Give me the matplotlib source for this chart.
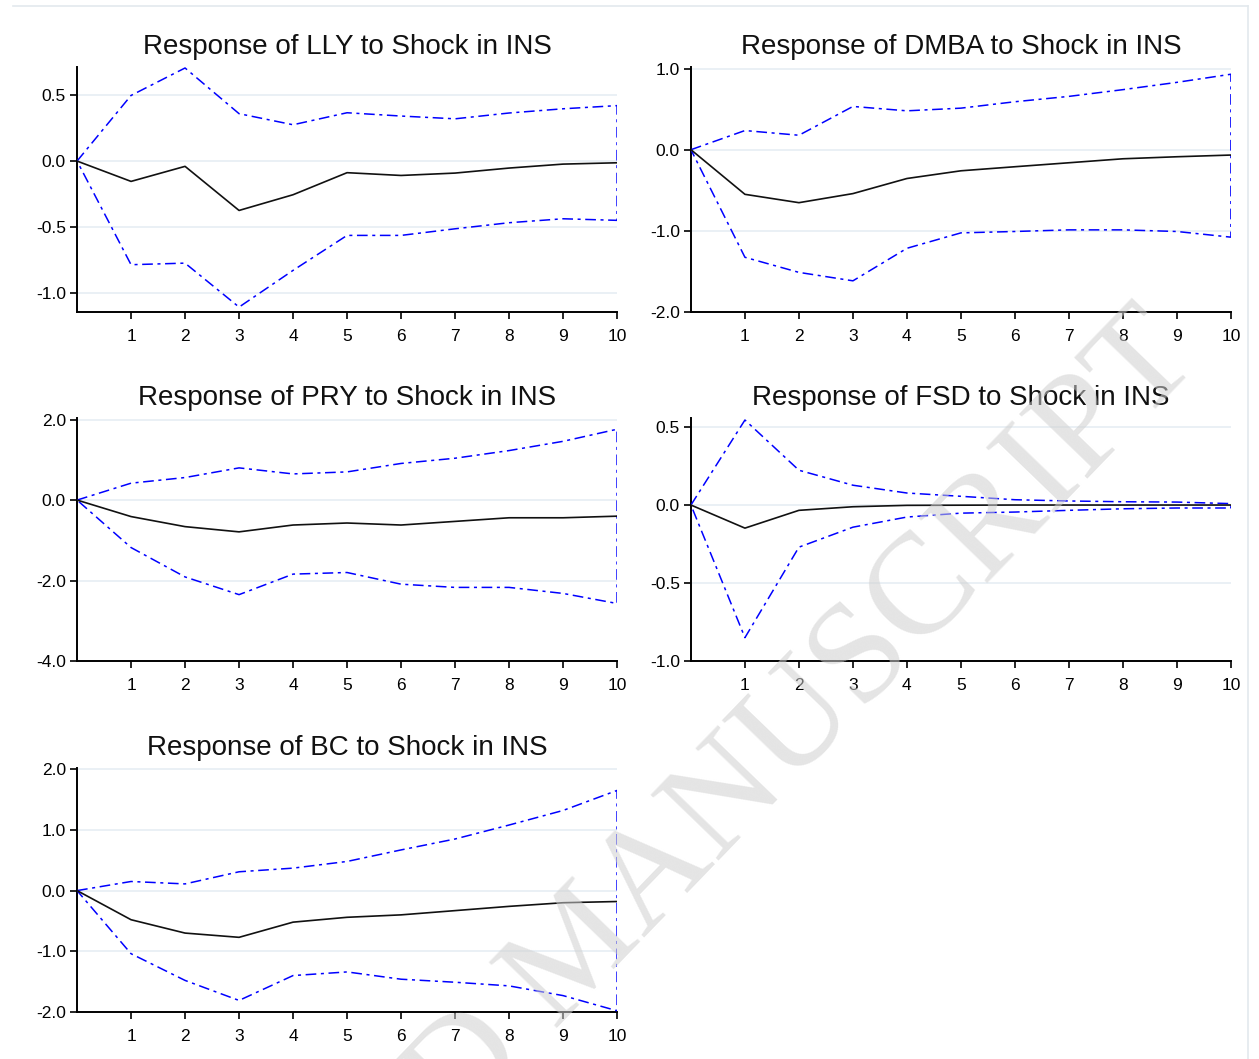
import matplotlib
matplotlib.use("Agg")
import matplotlib.pyplot as plt
from matplotlib.lines import Line2D

plt.rcParams["font.family"] = ["Liberation Sans", "DejaVu Sans"]

# impulse horizon
periods = list(range(0, 11))

# responses to a shock in INS (point estimate, upper and lower bands)
lly_resp = [0, -0.154, -0.040, -0.374, -0.255, -0.088, -0.109, -0.091, -0.053, -0.023, -0.013]
lly_upper = [0, 0.497, 0.705, 0.359, 0.275, 0.366, 0.341, 0.320, 0.364, 0.396, 0.420]
lly_lower = [0, -0.785, -0.773, -1.106, -0.828, -0.563, -0.563, -0.513, -0.467, -0.437, -0.449]

dmba_resp = [0, -0.550, -0.653, -0.541, -0.355, -0.260, -0.210, -0.161, -0.112, -0.087, -0.066]
dmba_upper = [0, 0.236, 0.178, 0.533, 0.479, 0.512, 0.591, 0.657, 0.740, 0.830, 0.930]
dmba_lower = [0, -1.326, -1.512, -1.616, -1.215, -1.025, -1.008, -0.988, -0.988, -1.008, -1.078]

pry_resp = [0, -0.41, -0.66, -0.79, -0.62, -0.57, -0.62, -0.53, -0.44, -0.44, -0.40]
pry_upper = [0, 0.42, 0.56, 0.80, 0.65, 0.70, 0.91, 1.04, 1.23, 1.46, 1.76]
pry_lower = [0, -1.18, -1.91, -2.35, -1.84, -1.80, -2.09, -2.17, -2.17, -2.32, -2.57]

fsd_resp = [0, -0.148, -0.034, -0.011, -0.002, -0.001, 0.000, 0.000, 0.000, 0.000, 0.000]
fsd_upper = [0, 0.545, 0.223, 0.127, 0.077, 0.056, 0.034, 0.026, 0.021, 0.019, 0.009]
fsd_lower = [0, -0.850, -0.270, -0.142, -0.077, -0.052, -0.045, -0.034, -0.024, -0.019, -0.019]

bc_resp = [0, -0.48, -0.70, -0.77, -0.52, -0.44, -0.40, -0.33, -0.26, -0.20, -0.18]
bc_upper = [0, 0.15, 0.11, 0.31, 0.37, 0.48, 0.67, 0.85, 1.08, 1.32, 1.65]
bc_lower = [0, -1.04, -1.48, -1.81, -1.40, -1.34, -1.46, -1.51, -1.57, -1.73, -1.98]

panels = [
    ("LLY", lly_resp, lly_upper, lly_lower, (-1.143, 0.713), [-1.0, -0.5, 0.0, 0.5]),
    ("DMBA", dmba_resp, dmba_upper, dmba_lower, (-2.0, 1.02), [-2.0, -1.0, 0.0, 1.0]),
    ("PRY", pry_resp, pry_upper, pry_lower, (-4.0, 2.04), [-4.0, -2.0, 0.0, 2.0]),
    ("FSD", fsd_resp, fsd_upper, fsd_lower, (-1.0, 0.558), [-1.0, -0.5, 0.0, 0.5]),
    ("BC", bc_resp, bc_upper, bc_lower, (-2.0, 2.02), [-2.0, -1.0, 0.0, 1.0, 2.0]),
]

# axes boxes in figure fractions: left, bottom, width, height
boxes = [
    (0.0612, 0.7054, 0.4289, 0.2314),
    (0.5488, 0.7054, 0.4289, 0.2314),
    (0.0612, 0.3758, 0.4289, 0.2295),
    (0.5488, 0.3758, 0.4289, 0.2295),
    (0.0612, 0.0444, 0.4289, 0.2304),
]

fig = plt.figure(figsize=(12.59, 10.59), dpi=100)

for (name, resp, upper, lower, ylim, yticks), box in zip(panels, boxes):
    ax = fig.add_axes(box)
    # band drawn as one closed outline: upper out to the horizon, lower back
    band_x = periods + periods[::-1]
    band_y = upper + lower[::-1]
    ax.plot(band_x, band_y, color="#0000ff", lw=1.1,
            linestyle=(0, (7, 3, 2, 3)), zorder=3)
    ax.plot(periods, resp, color="#111111", lw=1.2, zorder=4)

    ax.set_xlim(0, 10)
    ax.set_ylim(*ylim)
    ax.set_xticks(periods[1:])
    ax.set_yticks(yticks)
    ax.set_yticklabels([f"{t:.1f}" for t in yticks])
    for t in yticks:
        ax.axhline(t, color="#e6eef3", lw=1.2, zorder=1)

    for side in ("top", "right"):
        ax.spines[side].set_visible(False)
    for side in ("left", "bottom"):
        ax.spines[side].set_linewidth(1.4)
        ax.spines[side].set_color("black")
    ax.tick_params(direction="out", length=5, width=1.2, labelsize=12.5,
                   colors="black")
    ax.tick_params(axis="x", pad=7)
    ax.tick_params(axis="y", pad=3)
    ax.set_title(f"Response of {name} to Shock in INS", fontsize=20,
                 color="#111111", pad=9)

# thin frame along top and right edge
fig.add_artist(Line2D([0.010, 0.991], [0.9945, 0.9945], color="#e3e9ed", lw=1.2))
fig.add_artist(Line2D([0.991, 0.991], [0.0, 0.9945], color="#e3e9ed", lw=1.2))

fig.text(0.462, 0.10, "ACCEPTED MANUSCRIPT", fontsize=104, family="Liberation Serif",
         color="#cfcfcf", alpha=0.55, rotation=46, rotation_mode="anchor",
         ha="center", va="center", zorder=10)

fig.savefig("out.png", dpi=100)
